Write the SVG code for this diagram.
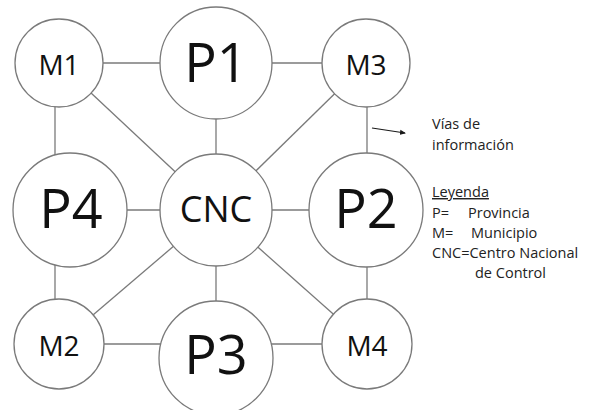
<svg xmlns="http://www.w3.org/2000/svg" width="593" height="410" viewBox="0 0 593 410">
<style>
.n{fill:#fff;stroke:#7a7a7a;stroke-width:1.3}
.l{stroke:#7a7a7a;stroke-width:1.3;fill:none}
.t{font-family:"Open Sans","Liberation Sans",sans-serif;fill:#111;text-anchor:middle}
.s{font-size:28px}
.b{font-size:54px}
.c{font-size:36px}
.g{font-family:"Open Sans","Liberation Sans",sans-serif;fill:#222;font-size:14.5px}
</style>
<defs>
<marker id="ah" markerWidth="6" markerHeight="6" refX="5" refY="3" orient="auto" markerUnits="userSpaceOnUse">
<path d="M0,0.5 L6,3 L0,5.5 z" fill="#1a1a1a"/>
</marker>
</defs>
<g id="connectors">
<line class="l" x1="59" y1="63" x2="216" y2="63"/>
<line class="l" x1="216" y1="63" x2="366" y2="63"/>
<line class="l" x1="55" y1="63" x2="55" y2="210"/>
<line class="l" x1="216" y1="63" x2="216" y2="210"/>
<line class="l" x1="367" y1="63" x2="367" y2="210"/>
<line class="l" x1="59" y1="63" x2="216" y2="210"/>
<line class="l" x1="366" y1="63" x2="216" y2="210"/>
<line class="l" x1="70" y1="210" x2="366" y2="210"/>
<line class="l" x1="55" y1="210" x2="55" y2="344"/>
<line class="l" x1="216" y1="210" x2="216" y2="358"/>
<line class="l" x1="367" y1="210" x2="367" y2="344"/>
<line class="l" x1="216" y1="210" x2="59" y2="344"/>
<line class="l" x1="216" y1="210" x2="367" y2="344"/>
<line class="l" x1="59" y1="344" x2="367" y2="344"/>
<line x1="372" y1="128" x2="405" y2="133" stroke="#1a1a1a" stroke-width="1.2" marker-end="url(#ah)"/>
</g>
<g id="M1"><circle class="n" cx="59" cy="63" r="44"/><text class="t s" x="59" y="75">M1</text></g>
<g id="P1"><circle class="n" cx="216" cy="63" r="56"/><text class="t b" x="216" y="82">P1</text></g>
<g id="M3"><circle class="n" cx="366" cy="63" r="44"/><text class="t s" x="366" y="75">M3</text></g>
<g id="P4"><circle class="n" cx="70" cy="210" r="57"/><text class="t b" x="71" y="228">P4</text></g>
<g id="CNC"><circle class="n" cx="216" cy="210" r="56"/><text class="t c" x="216" y="222">CNC</text></g>
<g id="P2"><circle class="n" cx="366" cy="210" r="57"/><text class="t b" x="366" y="228">P2</text></g>
<g id="M2"><circle class="n" cx="59" cy="344" r="45"/><text class="t s" x="59" y="356">M2</text></g>
<g id="P3"><circle class="n" cx="216" cy="358" r="57"/><text class="t b" x="216" y="374">P3</text></g>
<g id="M4"><circle class="n" cx="367" cy="344" r="45"/><text class="t s" x="367" y="356">M4</text></g>
<g id="legend">
<text class="g" x="432" y="129">Vías de</text>
<text class="g" x="432" y="150">información</text>
<text class="g" x="432" y="197" text-decoration="underline">Leyenda</text>
<text class="g" x="432" y="218">P=</text><text class="g" x="468" y="218">Provincia</text>
<text class="g" x="432" y="238">M=</text><text class="g" x="471" y="238">Municipio</text>
<text class="g" x="432" y="258">CNC=Centro Nacional</text>
<text class="g" x="475" y="278">de Control</text>
</g>
</svg>
